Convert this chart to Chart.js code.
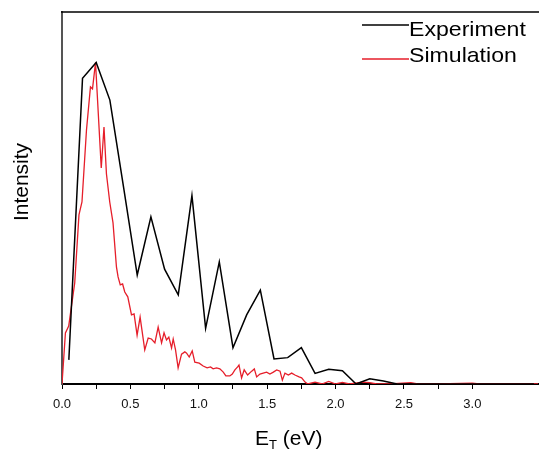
<!DOCTYPE html>
<html>
<head>
<meta charset="utf-8">
<script src="https://cdn.jsdelivr.net/npm/chart.js@4/dist/chart.umd.min.js"></script>
<style>
  html, body { margin: 0; padding: 0; background: #fff; }
</style>
</head>
<body>
<canvas id="plot" width="539" height="451"></canvas>
<script>
// Experiment (black), sampled every 0.1 eV
const expEnergy = [0.05, 0.15, 0.25, 0.35, 0.45, 0.55, 0.65, 0.75, 0.85, 0.95,
    1.05, 1.15, 1.25, 1.35, 1.45, 1.55, 1.65, 1.75, 1.85, 1.95,
    2.05, 2.15, 2.25, 2.35, 2.45, 2.55, 2.65, 2.75, 2.85, 2.95,
    3.05, 3.15, 3.25, 3.35, 3.45]
const expIntensity = [0.075, 0.951, 1.0, 0.883, 0.612, 0.339, 0.520, 0.357, 0.277, 0.586,
    0.173, 0.380, 0.113, 0.215, 0.292, 0.078, 0.082, 0.113, 0.033, 0.046,
    0.041, 0.0, 0.016, 0.009, 0.0, 0, 0, 0, 0, 0,
    0, 0, 0, 0, 0]

// Simulation (red)
const simEnergy = [0.0, 0.025, 0.049, 0.093, 0.124, 0.146, 0.179, 0.208, 0.223, 0.245,
    0.287, 0.307, 0.325, 0.349, 0.373, 0.398, 0.410, 0.426, 0.443, 0.459,
    0.481, 0.508, 0.527, 0.549, 0.571, 0.605, 0.630, 0.654, 0.679, 0.703,
    0.728, 0.746, 0.764, 0.781, 0.801, 0.813, 0.830, 0.849, 0.874, 0.898,
    0.911, 0.930, 0.952, 0.971, 1.003, 1.032, 1.061, 1.086, 1.105, 1.130,
    1.154, 1.179, 1.198, 1.227, 1.245, 1.264, 1.284, 1.294, 1.313, 1.332,
    1.357, 1.387, 1.406, 1.423, 1.447, 1.471, 1.496, 1.520, 1.545, 1.570,
    1.594, 1.611, 1.630, 1.655, 1.679, 1.703, 1.733, 1.752, 1.777, 1.796,
    1.85, 1.90, 1.95, 2.00, 2.05, 2.10, 2.20, 2.25, 2.30, 2.40,
    2.55, 2.60, 2.75, 3.00, 3.05, 3.20, 3.48]
const simIntensity = [0.0, 0.159, 0.180, 0.314, 0.526, 0.566, 0.790, 0.924, 0.918, 1.0,
    0.672, 0.799, 0.653, 0.566, 0.501, 0.364, 0.333, 0.308, 0.311, 0.286,
    0.271, 0.215, 0.218, 0.152, 0.208, 0.106, 0.143, 0.140, 0.128, 0.177,
    0.128, 0.159, 0.137, 0.146, 0.112, 0.140, 0.106, 0.050, 0.093, 0.100,
    0.096, 0.084, 0.103, 0.068, 0.065, 0.056, 0.050, 0.053, 0.047, 0.050,
    0.047, 0.037, 0.025, 0.025, 0.031, 0.044, 0.053, 0.059, 0.019, 0.044,
    0.028, 0.040, 0.047, 0.022, 0.031, 0.034, 0.037, 0.031, 0.037, 0.044,
    0.040, 0.012, 0.034, 0.028, 0.034, 0.028, 0.022, 0.019, 0.006, 0.0,
    0.006, 0.0, 0.008, 0.0, 0.005, 0.0, 0.006, 0.004, 0.0, 0.0,
    0.004, 0.0, 0.0, 0.003, 0.0, 0.0, 0.0]

const seriesNames = ["Experiment", "Simulation"]
const seriesColors = ["#000000", "#e61e2a"]

function toPoints(xs, ys) {
    return xs.map((x, i) => ({ x: x, y: ys[i] }))
}

// legend, axis titles and top frame line
const decorations = {
    id: 'decorations',
    afterDraw(chart) {
        const ctx = chart.ctx
        const area = chart.chartArea
        ctx.save()

        // top frame line
        ctx.strokeStyle = '#000'
        ctx.lineWidth = 1.5
        ctx.beginPath()
        ctx.moveTo(area.left - 1, area.top)
        ctx.lineTo(area.right + 1, area.top)
        ctx.stroke()

        // legend
        const lineY = [25, 59]
        const textY = [30, 56]
        ctx.font = '21px "Liberation Sans", Arial, sans-serif'
        ctx.textBaseline = 'middle'
        ctx.textAlign = 'left'
        seriesNames.forEach((name, i) => {
            ctx.strokeStyle = seriesColors[i]
            ctx.lineWidth = 1.5
            ctx.beginPath()
            ctx.moveTo(362, lineY[i])
            ctx.lineTo(409, lineY[i])
            ctx.stroke()
            ctx.fillStyle = '#000'
            ctx.save()
            ctx.translate(409, textY[i])
            ctx.scale(1.1, 1)
            ctx.fillText(name, 0, 0)
            ctx.restore()
        })

        // x title with subscript
        ctx.fillStyle = '#000'
        ctx.textBaseline = 'alphabetic'
        let x = 255
        const base = 445
        ctx.font = '21px "Liberation Sans", Arial, sans-serif'
        ctx.fillText('E', x, base)
        x += ctx.measureText('E').width
        ctx.font = '13px "Liberation Sans", Arial, sans-serif'
        ctx.fillText('T', x, base + 4)
        x += ctx.measureText('T').width
        ctx.font = '21px "Liberation Sans", Arial, sans-serif'
        ctx.fillText(' (eV)', x, base)

        // y title
        ctx.translate(22, 182)
        ctx.rotate(-Math.PI / 2)
        ctx.textAlign = 'center'
        ctx.textBaseline = 'middle'
        ctx.fillText('Intensity', 0, 0)

        ctx.restore()
    }
}

const ctx = document.getElementById('plot').getContext('2d')
const chart = new Chart(ctx, {
    type: 'line',
    data: {
        datasets: [
            {
                label: seriesNames[0],
                data: toPoints(expEnergy, expIntensity),
                borderColor: seriesColors[0],
                borderWidth: 1.5,
                pointRadius: 0,
                tension: 0,
                fill: false,
            },
            {
                label: seriesNames[1],
                data: toPoints(simEnergy, simIntensity),
                borderColor: seriesColors[1],
                borderWidth: 1.3,
                pointRadius: 0,
                tension: 0,
                fill: false,
            },
        ],
    },
    options: {
        responsive: false,
        animation: false,
        layout: { padding: { top: 12, right: 1, bottom: 0, left: 0 } },
        plugins: {
            legend: { display: false },
            tooltip: { enabled: false },
        },
        scales: {
            x: {
                type: 'linear',
                min: 0,
                max: 3.48,
                afterBuildTicks: s => {
                    s.ticks = s.ticks.filter(t => Math.abs(t.value / 0.25 - Math.round(t.value / 0.25)) < 1e-6)
                },
                afterFit: s => { s.height = 67 },
                ticks: {
                    stepSize: 0.25,
                    autoSkip: false,
                    maxRotation: 0,
                    padding: 8,
                    color: '#111',
                    font: { family: '"Liberation Sans", Arial, sans-serif', size: 13 },
                    callback: v => (Math.abs(v * 2 - Math.round(v * 2)) < 1e-6) ? v.toFixed(1) : '',
                },
                grid: { drawOnChartArea: false, drawTicks: true, tickLength: 5, color: '#000', lineWidth: 1 },
                border: { color: '#000', width: 2 },
            },
            y: {
                min: 0,
                max: 1.157,
                afterFit: s => { s.width = 62 },
                ticks: { display: false },
                grid: { display: false },
                border: { color: '#555', width: 2 },
            },
        },
    },
    plugins: [decorations],
})
</script>
</body>
</html>
